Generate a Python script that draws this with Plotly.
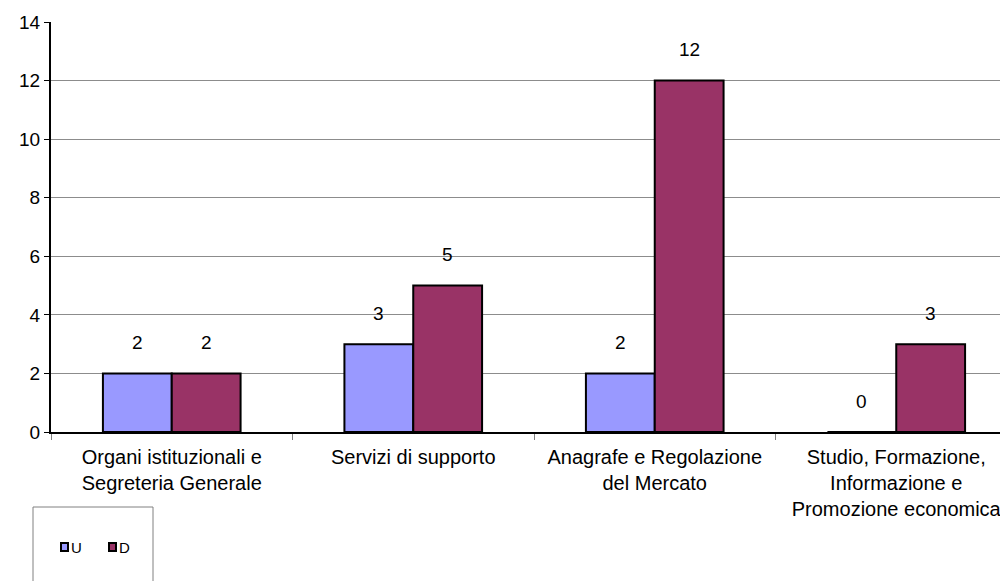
import plotly.graph_objects as go

categories = [
    "Organi istituzionali e<br>Segreteria Generale",
    "Servizi di supporto",
    "Anagrafe e Regolazione<br>del Mercato",
    "Studio, Formazione,<br>Informazione e<br>Promozione economica",
]
series_names = ["U", "D"]
u_values = [2, 3, 2, 0]
d_values = [2, 5, 12, 3]
series_colors = ["#9999FF", "#993366"]
y_ticks = [0, 2, 4, 6, 8, 10, 12, 14]

FONT = "Liberation Sans, Arial, sans-serif"
FS = 19

fig = go.Figure()
for name, vals, col in zip(series_names, [u_values, d_values], series_colors):
    fig.add_trace(go.Bar(
        name=name, x=categories, y=vals, showlegend=False,
        marker=dict(color=col, line=dict(color="black", width=2)),
    ))

# data labels
for i, (u, d) in enumerate(zip(u_values, d_values)):
    for val, off in ((u, -0.143), (d, 0.143)):
        fig.add_annotation(
            x=i + off, y=val, xref="x", yref="y", text=str(val),
            showarrow=False, yshift=31, font=dict(size=FS, color="black", family=FONT),
        )

# page body has an 8px margin
OFF = 8
W, H = 1000, 573
PLOT_LEFT, PLOT_TOP, PLOT_BOTTOM = 51, 22, 432
ml = PLOT_LEFT - OFF
mt = PLOT_TOP - OFF
mb = OFF + H - PLOT_BOTTOM
mr = 0
pw = W - ml - mr
ph = H - mt - mb


def px_x(p):
    return (p - PLOT_LEFT) / pw


def px_y(p):
    return (PLOT_BOTTOM - p) / ph


# legend frame
fig.add_shape(type="rect", xref="paper", yref="paper",
              x0=px_x(33), x1=px_x(153), y0=px_y(507), y1=px_y(640),
              line=dict(color="#808080", width=1), fillcolor="rgba(0,0,0,0)")
# legend items
for k, (name, col) in enumerate(zip(series_names, series_colors)):
    sx = 61 + k * 48
    fig.add_shape(type="rect", xref="paper", yref="paper",
                  x0=px_x(sx), x1=px_x(sx + 7), y0=px_y(543), y1=px_y(551),
                  line=dict(color="black", width=2), fillcolor=col)
    fig.add_annotation(x=px_x(sx + 8), y=px_y(547), xref="paper", yref="paper",
                       text=name, showarrow=False, xanchor="left", yanchor="middle",
                       font=dict(size=15, family=FONT, color="black"))

fig.update_layout(
    template="none",
    width=W, height=H,
    margin=dict(l=ml, r=mr, t=mt, b=mb, autoexpand=False),
    plot_bgcolor="white", paper_bgcolor="white",
    barmode="group", bargap=0.43, bargroupgap=0,
    font=dict(family=FONT, size=FS, color="black"),
    showlegend=False,
    xaxis=dict(
        range=[-0.5, -0.5 + pw / 241.5], type="category", automargin=False,
        tickson="boundaries", ticks="outside", ticklen=6, tickcolor="#808080",
        showline=True, linecolor="black", linewidth=2, ticklabelstandoff=6,
        showgrid=False, tickfont=dict(size=20, family=FONT, color="black"),
    ),
    yaxis=dict(
        range=[0, 14], tickvals=y_ticks, ticks="outside", ticklen=5, tickcolor="black",
        showline=True, linecolor="black", linewidth=2, automargin=False,
        showgrid=True, gridcolor="#8c8c8c", gridwidth=1,
        tickfont=dict(size=FS, family=FONT, color="black"), zeroline=False,
    ),
)

fig.write_html("out.html")
